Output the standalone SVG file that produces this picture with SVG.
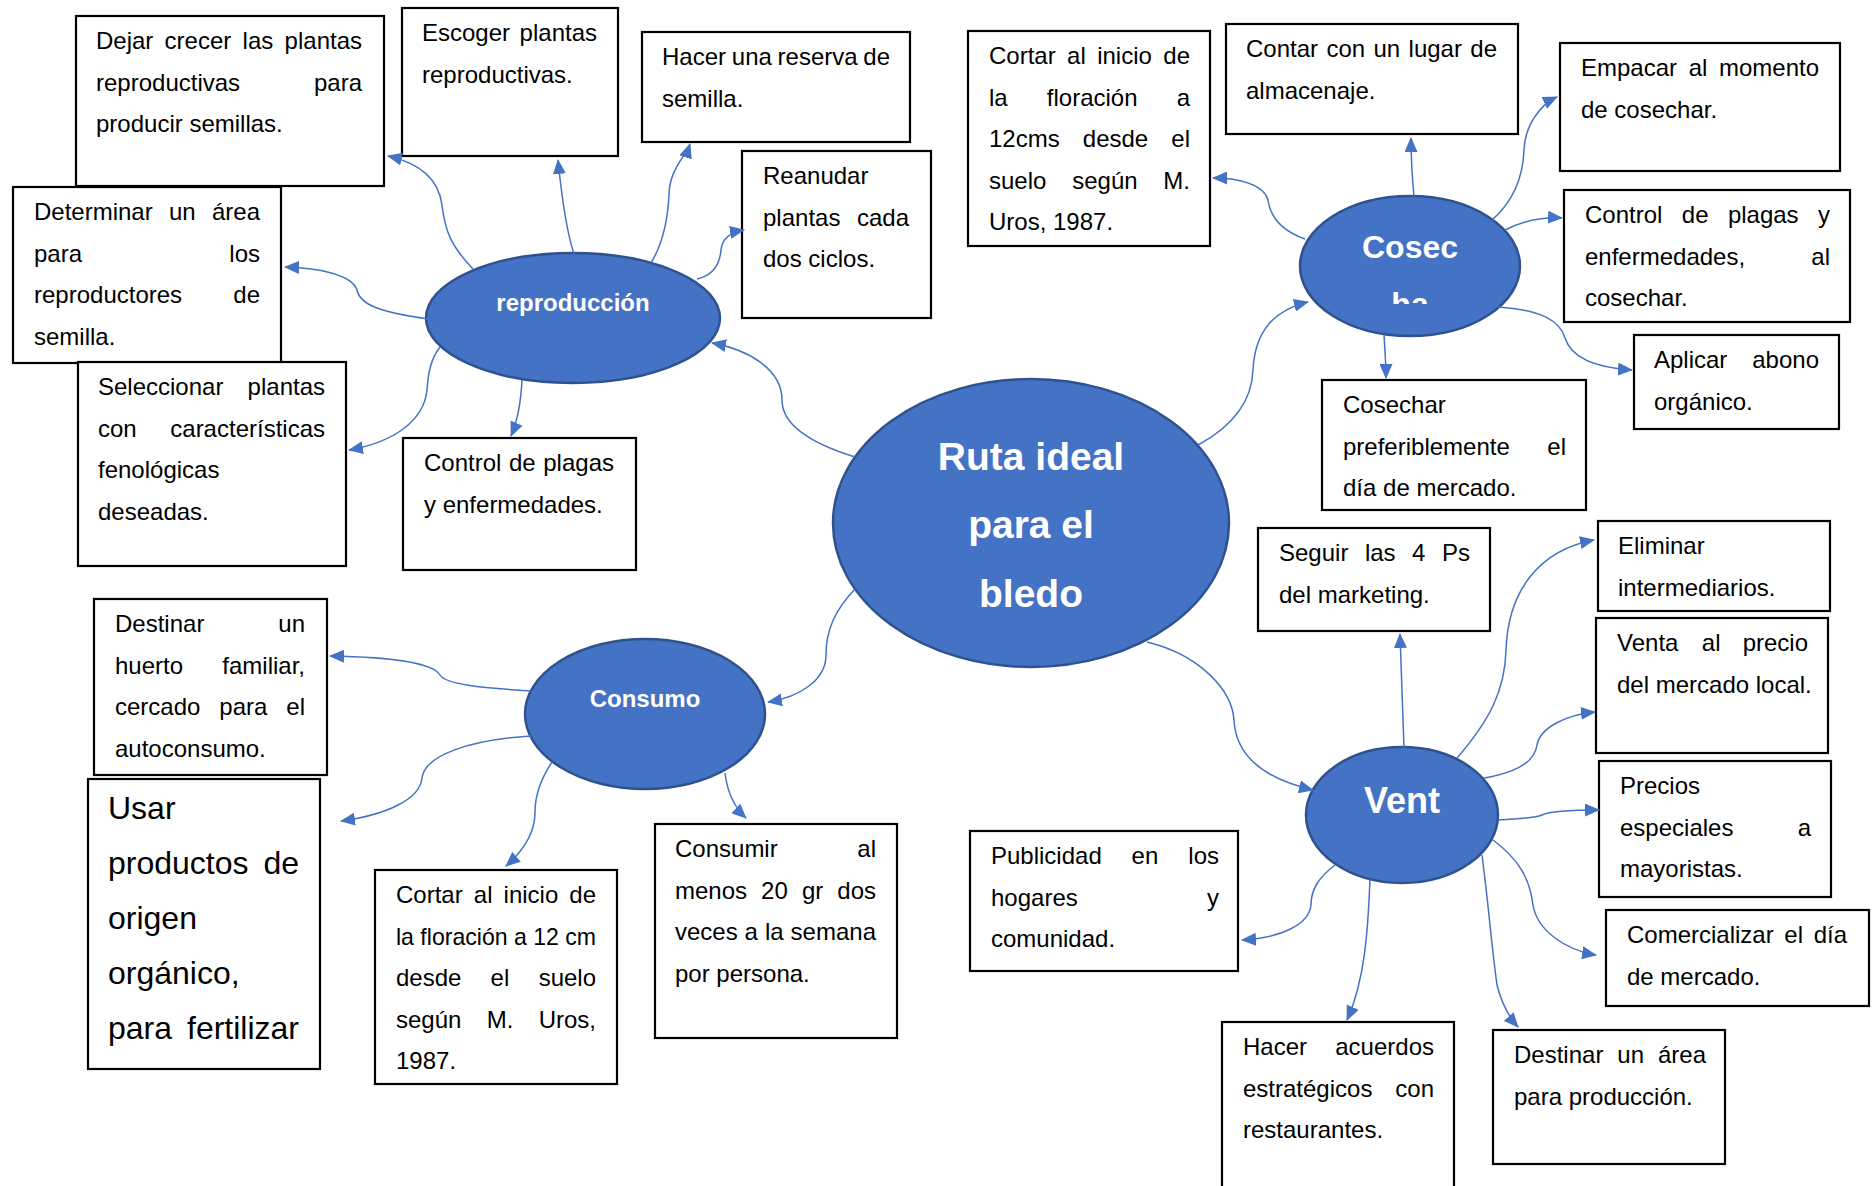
<svg xmlns="http://www.w3.org/2000/svg" width="1873" height="1186" viewBox="0 0 1873 1186">
  <style>
    .box { fill: #ffffff; stroke: #000000; stroke-width: 2.2; }
    .hub { fill: #4472C4; stroke: #2F528F; stroke-width: 2.5; }
    .t { font-family: "Liberation Sans", Arial, sans-serif; font-size: 24px; fill: #000000; }
    .big { font-size: 32px; }
    .e { text-anchor: end; }
    .ht { font-family: "Liberation Sans", Arial, sans-serif; font-weight: bold; fill: #ffffff; text-anchor: middle; }
    .link { fill: none; stroke: #4472C4; stroke-width: 1.5; marker-end: url(#arrow); }
  </style>
  <defs>
    <marker id="arrow" viewBox="0 0 15 13" refX="14" refY="6.5" markerWidth="15" markerHeight="13" markerUnits="userSpaceOnUse" orient="auto">
      <path d="M0,0 L15,6.5 L0,13 z" fill="#4472C4"/>
    </marker>
    <clipPath id="cosechaClip">
      <rect x="1300" y="197" width="220" height="107"/>
    </clipPath>
  </defs>
  <rect width="1873" height="1186" fill="#ffffff"/>

  <!-- central topic -->
  <g id="node-central">
    <ellipse class="hub" cx="1031" cy="523" rx="198" ry="144"/>
    <text class="ht" font-size="39" x="1031" y="470">Ruta ideal</text>
    <text class="ht" font-size="39" x="1031" y="538">para el</text>
    <text class="ht" font-size="39" x="1031" y="607">bledo</text>
  </g>

  <!-- branch topics -->
  <g id="node-reproduccion">
    <ellipse class="hub" cx="573" cy="318" rx="147" ry="65"/>
    <text class="ht" font-size="24" x="573" y="311">reproducción</text>
  </g>
  <g id="node-cosecha">
    <ellipse class="hub" cx="1410" cy="266" rx="110" ry="70"/>
    <g clip-path="url(#cosechaClip)">
      <text class="ht" font-size="32" x="1410" y="258">Cosec</text>
      <text class="ht" font-size="32" x="1410" y="315">ha</text>
    </g>
  </g>
  <g id="node-consumo">
    <ellipse class="hub" cx="645" cy="714" rx="120" ry="75"/>
    <text class="ht" font-size="24" x="645" y="707">Consumo</text>
  </g>
  <g id="node-venta">
    <ellipse class="hub" cx="1402" cy="815" rx="96" ry="68"/>
    <text class="ht" font-size="36" x="1402" y="813">Vent</text>
  </g>

  <!-- reproducción leaves -->
  <g id="node-dejar-crecer">
    <rect class="box" x="76" y="16" width="308" height="170"/>
    <text class="t" y="49"><tspan x="96">Dejar</tspan><tspan x="164.6">crecer</tspan><tspan x="242.6">las</tspan></text>
    <text class="t e" x="362" y="49">plantas</text>
    <text class="t" x="96" y="90.5">reproductivas</text>
    <text class="t e" x="362" y="90.5">para</text>
    <text class="t" x="96" y="132">producir semillas.</text>
  </g>
  <g id="node-escoger">
    <rect class="box" x="402" y="8" width="216" height="148"/>
    <text class="t" x="422" y="41">Escoger</text>
    <text class="t e" x="597" y="41">plantas</text>
    <text class="t" x="422" y="82.5">reproductivas.</text>
  </g>
  <g id="node-reserva">
    <rect class="box" x="642" y="32" width="268" height="110"/>
    <text class="t" y="65"><tspan x="662">Hacer</tspan><tspan x="731.8">una</tspan><tspan x="777.6">reserva</tspan></text>
    <text class="t e" x="890" y="65">de</text>
    <text class="t" x="662" y="106.5">semilla.</text>
  </g>
  <g id="node-reanudar">
    <rect class="box" x="742" y="151" width="189" height="167"/>
    <text class="t" x="763" y="184">Reanudar</text>
    <text class="t" x="763" y="225.5">plantas</text>
    <text class="t e" x="909" y="225.5">cada</text>
    <text class="t" x="763" y="267">dos ciclos.</text>
  </g>
  <g id="node-determinar">
    <rect class="box" x="13" y="187" width="268" height="176"/>
    <text class="t" y="220"><tspan x="34">Determinar</tspan><tspan x="169">un</tspan></text>
    <text class="t e" x="260" y="220">área</text>
    <text class="t" x="34" y="261.5">para</text>
    <text class="t e" x="260" y="261.5">los</text>
    <text class="t" x="34" y="303">reproductores</text>
    <text class="t e" x="260" y="303">de</text>
    <text class="t" x="34" y="344.5">semilla.</text>
  </g>
  <g id="node-seleccionar">
    <rect class="box" x="78" y="362" width="268" height="204"/>
    <text class="t" x="98" y="395">Seleccionar</text>
    <text class="t e" x="325" y="395">plantas</text>
    <text class="t" x="98" y="436.5">con</text>
    <text class="t e" x="325" y="436.5">características</text>
    <text class="t" x="98" y="478">fenológicas</text>
    <text class="t" x="98" y="519.5">deseadas.</text>
  </g>
  <g id="node-control-plagas">
    <rect class="box" x="403" y="438" width="233" height="132"/>
    <text class="t" y="471"><tspan x="424">Control</tspan><tspan x="509">de</tspan></text>
    <text class="t e" x="614" y="471">plagas</text>
    <text class="t" x="424" y="512.5">y enfermedades.</text>
  </g>

  <!-- cosecha leaves -->
  <g id="node-cortar-cosecha">
    <rect class="box" x="968" y="31" width="242" height="215"/>
    <text class="t" y="64"><tspan x="989">Cortar</tspan><tspan x="1067.1">al</tspan><tspan x="1097.2">inicio</tspan></text>
    <text class="t e" x="1190" y="64">de</text>
    <text class="t" y="105.5"><tspan x="989">la</tspan><tspan x="1046.8">floración</tspan></text>
    <text class="t e" x="1190" y="105.5">a</text>
    <text class="t" y="147"><tspan x="989">12cms</tspan><tspan x="1082.8">desde</tspan></text>
    <text class="t e" x="1190" y="147">el</text>
    <text class="t" y="188.5"><tspan x="989">suelo</tspan><tspan x="1072.2">según</tspan></text>
    <text class="t e" x="1190" y="188.5">M.</text>
    <text class="t" x="989" y="230">Uros, 1987.</text>
  </g>
  <g id="node-almacenaje">
    <rect class="box" x="1226" y="24" width="292" height="110"/>
    <text class="t" y="57"><tspan x="1246">Contar</tspan><tspan x="1326.4">con</tspan><tspan x="1373.5">un</tspan><tspan x="1408.6">lugar</tspan></text>
    <text class="t e" x="1497" y="57">de</text>
    <text class="t" x="1246" y="98.5">almacenaje.</text>
  </g>
  <g id="node-empacar">
    <rect class="box" x="1560" y="43" width="280" height="128"/>
    <text class="t" y="76"><tspan x="1581">Empacar</tspan><tspan x="1688.7">al</tspan></text>
    <text class="t e" x="1819" y="76">momento</text>
    <text class="t" x="1581" y="117.5">de cosechar.</text>
  </g>
  <g id="node-control-cosecha">
    <rect class="box" x="1564" y="190" width="286" height="132"/>
    <text class="t" y="223"><tspan x="1585">Control</tspan><tspan x="1681.8">de</tspan><tspan x="1727.9">plagas</tspan></text>
    <text class="t e" x="1830" y="223">y</text>
    <text class="t" x="1585" y="264.5">enfermedades,</text>
    <text class="t e" x="1830" y="264.5">al</text>
    <text class="t" x="1585" y="306">cosechar.</text>
  </g>
  <g id="node-abono">
    <rect class="box" x="1634" y="335" width="205" height="94"/>
    <text class="t" x="1654" y="368">Aplicar</text>
    <text class="t e" x="1819" y="368">abono</text>
    <text class="t" x="1654" y="409.5">orgánico.</text>
  </g>
  <g id="node-dia-mercado">
    <rect class="box" x="1322" y="380" width="264" height="130"/>
    <text class="t" x="1343" y="413">Cosechar</text>
    <text class="t" x="1343" y="454.5">preferiblemente</text>
    <text class="t e" x="1566" y="454.5">el</text>
    <text class="t" x="1343" y="496">día de mercado.</text>
  </g>

  <!-- venta leaves -->
  <g id="node-4ps">
    <rect class="box" x="1258" y="528" width="232" height="103"/>
    <text class="t" y="561"><tspan x="1279">Seguir</tspan><tspan x="1364.9">las</tspan><tspan x="1412.1">4</tspan></text>
    <text class="t e" x="1470" y="561">Ps</text>
    <text class="t" x="1279" y="602.5">del marketing.</text>
  </g>
  <g id="node-intermediarios">
    <rect class="box" x="1598" y="521" width="232" height="90"/>
    <text class="t" x="1618" y="554">Eliminar</text>
    <text class="t" x="1618" y="595.5">intermediarios.</text>
  </g>
  <g id="node-precio-local">
    <rect class="box" x="1596" y="618" width="232" height="135"/>
    <text class="t" y="651"><tspan x="1617">Venta</tspan><tspan x="1701.8">al</tspan></text>
    <text class="t e" x="1808" y="651">precio</text>
    <text class="t" x="1617" y="692.5">del mercado local.</text>
  </g>
  <g id="node-mayoristas">
    <rect class="box" x="1599" y="761" width="232" height="136"/>
    <text class="t" x="1620" y="794">Precios</text>
    <text class="t" x="1620" y="835.5">especiales</text>
    <text class="t e" x="1811" y="835.5">a</text>
    <text class="t" x="1620" y="877">mayoristas.</text>
  </g>
  <g id="node-comercializar">
    <rect class="box" x="1606" y="910" width="263" height="96"/>
    <text class="t" y="943"><tspan x="1627">Comercializar</tspan><tspan x="1784.3">el</tspan></text>
    <text class="t e" x="1847" y="943">día</text>
    <text class="t" x="1627" y="984.5">de mercado.</text>
  </g>
  <g id="node-area-produccion">
    <rect class="box" x="1493" y="1030" width="232" height="134"/>
    <text class="t" y="1063"><tspan x="1514">Destinar</tspan><tspan x="1617.3">un</tspan></text>
    <text class="t e" x="1706" y="1063">área</text>
    <text class="t" x="1514" y="1104.5">para producción.</text>
  </g>
  <g id="node-restaurantes">
    <rect class="box" x="1222" y="1022" width="232" height="175"/>
    <text class="t" x="1243" y="1055">Hacer</text>
    <text class="t e" x="1434" y="1055">acuerdos</text>
    <text class="t" x="1243" y="1096.5">estratégicos</text>
    <text class="t e" x="1434" y="1096.5">con</text>
    <text class="t" x="1243" y="1138">restaurantes.</text>
  </g>
  <g id="node-publicidad">
    <rect class="box" x="970" y="831" width="268" height="140"/>
    <text class="t" y="864"><tspan x="991">Publicidad</tspan><tspan x="1131.6">en</tspan></text>
    <text class="t e" x="1219" y="864">los</text>
    <text class="t" x="991" y="905.5">hogares</text>
    <text class="t e" x="1219" y="905.5">y</text>
    <text class="t" x="991" y="947">comunidad.</text>
  </g>

  <!-- consumo leaves -->
  <g id="node-huerto">
    <rect class="box" x="94" y="599" width="233" height="176"/>
    <text class="t" x="115" y="632">Destinar</text>
    <text class="t e" x="305" y="632">un</text>
    <text class="t" x="115" y="673.5">huerto</text>
    <text class="t e" x="305" y="673.5">familiar,</text>
    <text class="t" y="715"><tspan x="115">cercado</tspan><tspan x="219.3">para</tspan></text>
    <text class="t e" x="305" y="715">el</text>
    <text class="t" x="115" y="756.5">autoconsumo.</text>
  </g>
  <g id="node-organico">
    <rect class="box" x="88" y="779" width="232" height="290"/>
    <text class="t big" x="108" y="819">Usar</text>
    <text class="t big" x="108" y="874">productos</text>
    <text class="t big e" x="299" y="874">de</text>
    <text class="t big" x="108" y="929">origen</text>
    <text class="t big" x="108" y="984">orgánico,</text>
    <text class="t big" x="108" y="1039">para</text>
    <text class="t big e" x="299" y="1039">fertilizar</text>
  </g>
  <g id="node-cortar-consumo">
    <rect class="box" x="375" y="870" width="242" height="214"/>
    <text class="t" y="903"><tspan x="396">Cortar</tspan><tspan x="473.8">al</tspan><tspan x="503.6">inicio</tspan></text>
    <text class="t e" x="596" y="903">de</text>
    <text class="t" x="396" y="944.5" textLength="200" lengthAdjust="spacingAndGlyphs">la floración a 12 cm</text>
    <text class="t" y="986"><tspan x="396">desde</tspan><tspan x="490.6">el</tspan></text>
    <text class="t e" x="596" y="986">suelo</text>
    <text class="t" y="1027.5"><tspan x="396">según</tspan><tspan x="486.7">M.</tspan></text>
    <text class="t e" x="596" y="1027.5">Uros,</text>
    <text class="t" x="396" y="1069">1987.</text>
  </g>
  <g id="node-consumir">
    <rect class="box" x="655" y="824" width="242" height="214"/>
    <text class="t" x="675" y="857">Consumir</text>
    <text class="t e" x="876" y="857">al</text>
    <text class="t" y="898.5"><tspan x="675">menos</tspan><tspan x="761.1">20</tspan><tspan x="801.9">gr</tspan></text>
    <text class="t e" x="876" y="898.5">dos</text>
    <text class="t" y="940"><tspan x="675">veces</tspan><tspan x="744.6">a</tspan><tspan x="764.9">la</tspan></text>
    <text class="t e" x="876" y="940">semana</text>
    <text class="t" x="675" y="981.5">por persona.</text>
  </g>

  <!-- curved connectors with arrowheads -->
  <g id="connectors">
    <!-- central topic to branches -->
    <path class="link" d="M855 457 C800 440 782 420 782 400 C782 370 750 350 712 343"/>
    <path class="link" d="M1198 445 C1235 425 1252 400 1253 370 C1255 330 1275 310 1308 302"/>
    <path class="link" d="M855 589 C835 610 826 630 826 655 C826 680 800 697 768 702"/>
    <path class="link" d="M1147 642 C1200 655 1232 690 1234 720 C1236 760 1270 780 1313 790"/>
    <!-- reproducción -->
    <path class="link" d="M473 269 C450 245 445 230 442 205 C438 175 415 162 388 156"/>
    <path class="link" d="M574 254 C566 230 562 200 558 160"/>
    <path class="link" d="M651 263 C665 240 668 215 669 195 C669 170 686 156 690 144"/>
    <path class="link" d="M697 279 C715 275 720 262 721 250 C722 238 732 232 744 230"/>
    <path class="link" d="M428 319 C380 312 360 305 357 290 C352 275 320 268 285 267"/>
    <path class="link" d="M440 347 C430 360 428 375 427 390 C424 420 395 442 349 450"/>
    <path class="link" d="M522 380 C521 400 518 420 511 436"/>
    <!-- cosecha -->
    <path class="link" d="M1305 239 C1280 230 1270 215 1268 200 C1264 185 1240 178 1213 178"/>
    <path class="link" d="M1414 197 C1412 175 1411 155 1411 138"/>
    <path class="link" d="M1492 220 C1515 200 1523 175 1524 150 C1525 125 1540 105 1557 97"/>
    <path class="link" d="M1505 230 C1525 220 1545 217 1562 218"/>
    <path class="link" d="M1498 307 C1540 310 1560 320 1565 338 C1572 360 1600 368 1632 370"/>
    <path class="link" d="M1384 335 C1385 350 1386 365 1386 378"/>
    <!-- venta -->
    <path class="link" d="M1404 748 C1402 700 1401 665 1400 634"/>
    <path class="link" d="M1457 758 C1490 720 1505 690 1506 650 C1508 590 1540 550 1594 540"/>
    <path class="link" d="M1484 778 C1520 772 1535 760 1537 745 C1540 728 1565 715 1595 712"/>
    <path class="link" d="M1498 820 C1520 819 1535 818 1542 815 C1550 811 1570 810 1599 810"/>
    <path class="link" d="M1493 840 C1520 860 1530 880 1533 905 C1537 930 1565 950 1596 955"/>
    <path class="link" d="M1482 855 C1488 900 1492 950 1497 985 C1502 1005 1510 1018 1518 1027"/>
    <path class="link" d="M1370 879 C1368 930 1365 980 1347 1020"/>
    <path class="link" d="M1335 865 C1318 878 1311 890 1311 905 C1309 925 1280 938 1242 940"/>
    <!-- consumo -->
    <path class="link" d="M531 691 C480 688 445 684 440 675 C433 663 390 657 330 656"/>
    <path class="link" d="M531 736 C470 740 425 755 422 778 C420 800 385 815 341 821"/>
    <path class="link" d="M552 762 C540 780 535 795 535 812 C535 835 522 852 506 866"/>
    <path class="link" d="M725 773 C727 790 732 805 746 818"/>
  </g>
</svg>
